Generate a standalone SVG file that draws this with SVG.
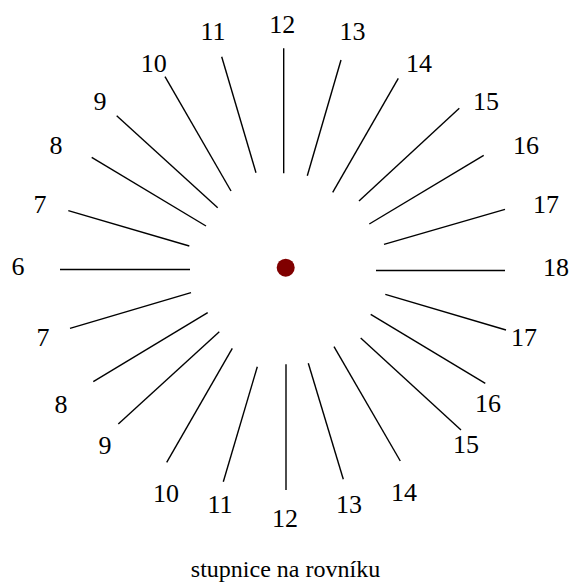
<svg xmlns="http://www.w3.org/2000/svg" width="570" height="587" viewBox="0 0 570 587">
<style>
.t{font-family:'Liberation Serif','Times New Roman',Times,Tinos,'Nimbus Roman','DejaVu Serif',serif;font-size:26px;fill:#000;text-anchor:middle}
.c{font-family:'Liberation Serif','Times New Roman',Times,Tinos,'Nimbus Roman','DejaVu Serif',serif;font-size:24px;fill:#000;text-anchor:middle}
.l line{stroke:#000;stroke-width:1.4;stroke-linecap:butt}
</style>
<rect width="570" height="587" fill="#fff"/>
<g id="connectors" class="l">
<line x1="283.7" y1="48.3" x2="283.7" y2="173.3"/>
<line x1="221.7" y1="56.7" x2="256" y2="172.7"/>
<line x1="165" y1="76.7" x2="231" y2="191"/>
<line x1="116.7" y1="115.7" x2="217.7" y2="207.7"/>
<line x1="91.7" y1="157.3" x2="206" y2="226"/>
<line x1="68.3" y1="210.7" x2="189.3" y2="246"/>
<line x1="60" y1="269.5" x2="190" y2="269.5"/>
<line x1="341" y1="60" x2="307.3" y2="175.7"/>
<line x1="398.3" y1="78.3" x2="332.7" y2="192.3"/>
<line x1="459.3" y1="108.3" x2="359" y2="201"/>
<line x1="483.7" y1="155.3" x2="369.3" y2="224"/>
<line x1="505" y1="209.3" x2="384" y2="244.3"/>
<line x1="376" y1="270.5" x2="505" y2="270.5"/>
<line x1="70" y1="328.3" x2="191" y2="292.7"/>
<line x1="93.3" y1="381.7" x2="207.7" y2="312.7"/>
<line x1="118.3" y1="424" x2="219.3" y2="331.7"/>
<line x1="166.7" y1="462.3" x2="232.3" y2="348.3"/>
<line x1="223.3" y1="481.7" x2="257.3" y2="366.7"/>
<line x1="286" y1="364.3" x2="286" y2="490"/>
<line x1="308.3" y1="363.3" x2="343.3" y2="479.3"/>
<line x1="334" y1="346.7" x2="400.3" y2="461"/>
<line x1="360.7" y1="338" x2="461" y2="430"/>
<line x1="370.7" y1="314.3" x2="485.3" y2="383.3"/>
<line x1="385.3" y1="294.3" x2="506" y2="330"/>
</g>
<g id="center"><circle cx="285.7" cy="267.7" r="9" fill="#800000"/></g>
<g id="labels-top">
<text class="t" x="282.3" y="33">12</text>
<text class="t" x="213" y="40">11</text>
<text class="t" x="153.7" y="71.7">10</text>
<text class="t" x="100" y="110">9</text>
<text class="t" x="56" y="154">8</text>
<text class="t" x="40" y="213">7</text>
<text class="t" x="18" y="275">6</text>
<text class="t" x="352.5" y="40">13</text>
<text class="t" x="419" y="71.7">14</text>
<text class="t" x="486" y="110">15</text>
<text class="t" x="526" y="154">16</text>
<text class="t" x="546" y="213.3">17</text>
<text class="t" x="556" y="276">18</text>
</g>
<g id="labels-bottom">
<text class="t" x="43" y="346">7</text>
<text class="t" x="61" y="412.7">8</text>
<text class="t" x="105" y="454">9</text>
<text class="t" x="166" y="501.7">10</text>
<text class="t" x="220" y="513.3">11</text>
<text class="t" x="285" y="527">12</text>
<text class="t" x="349" y="513.3">13</text>
<text class="t" x="404" y="500.7">14</text>
<text class="t" x="466" y="453.3">15</text>
<text class="t" x="488" y="411.7">16</text>
<text class="t" x="524" y="346">17</text>
</g>
<g id="caption"><text class="c" x="285.5" y="577">stupnice na rovníku</text></g>
</svg>
